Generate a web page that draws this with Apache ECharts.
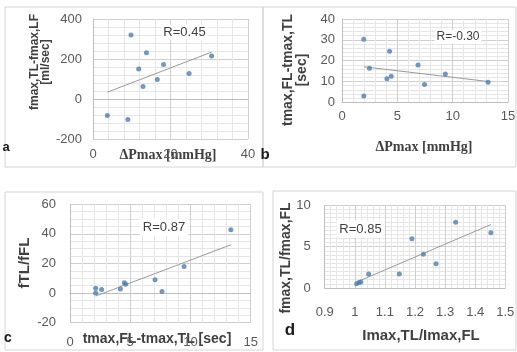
<!DOCTYPE html>
<html><head><meta charset="utf-8">
<script src="https://cdn.jsdelivr.net/npm/echarts@6/dist/echarts.min.js"></script>
<style>html,body{margin:0;padding:0;background:#fff}#c{width:517px;height:352px}</style>
</head><body><div id="c"></div>
<script>
// Panel a
const aX = [3.7, 9.0, 9.8, 11.8, 12.9, 13.8, 16.6, 18.2, 24.8, 30.6];
const aY = [-83, -102, 320, 150, 62, 231, 98, 173, 127, 215];
// Panel b
const bX = [1.97, 1.97, 2.48, 4.06, 4.3, 4.45, 6.87, 7.46, 9.34, 13.2];
const bY = [30.3, 3.0, 16.3, 11.3, 24.5, 12.5, 17.9, 8.6, 13.6, 9.6];
// Panel c
const cX = [2.13, 2.13, 2.63, 4.18, 4.51, 4.62, 7.06, 7.64, 9.47, 13.35];
const cY = [3.2, 0, 2.5, 2.7, 7.0, 5.9, 9.0, 1.1, 18.0, 42.8];
// Panel d
const dX = [1.006, 1.014, 1.02, 1.046, 1.148, 1.19, 1.228, 1.27, 1.335, 1.452];
const dY = [0.52, 0.65, 0.73, 1.69, 1.69, 5.96, 4.07, 2.94, 7.94, 6.69];

const rLabels = ['R=0.45', 'R=-0.30', 'R=0.87', 'R=0.85'];
const yTitles = ['fmax,TL-fmax,LF\n[ml/sec]', 'tmax,FL-tmax,TL\n[sec]', 'fTL/fFL', 'fmax,TL/fmax,FL'];
const xTitles = ['ΔPmax [mmHg]', 'ΔPmax [mmHg]', 'tmax,FL-tmax,TL [sec]', 'Imax,TL/Imax,FL'];
const panelLetters = ['a', 'b', 'c', 'd'];

const panels = [
  {x: aX, y: aY, grid: {left: 93, top: 19, width: 155, height: 120},
   xr: [0, 40, 20], yr: [-200, 400, 200], xMinor: 5, yMinor: 5, onZero: true, xMargin: 9, yMargin: 11},
  {x: bX, y: bY, grid: {left: 342, top: 19, width: 166, height: 83.3},
   xr: [0, 15, 5], yr: [0, 40, 10], xMinor: 5, yMinor: 5, onZero: false, xMargin: 8, yMargin: 7},
  {x: cX, y: cY, grid: {left: 70, top: 204.3, width: 180.7, height: 118.4},
   xr: [0, 15, 5], yr: [-20, 60, 20], xMinor: 5, yMinor: 4, onZero: true, xMargin: 13, yMargin: 14},
  {x: dX, y: dY, grid: {left: 324.7, top: 205.3, width: 180.6, height: 82.7},
   xr: [0.9, 1.5, 0.1], yr: [0, 10, 5], xMinor: 5, yMinor: 10, onZero: false, xMargin: 18, yMargin: 14}
];

function regression(xs, ys) {
  const n = xs.length;
  const mx = xs.reduce((s, v) => s + v, 0) / n;
  const my = ys.reduce((s, v) => s + v, 0) / n;
  let sxy = 0, sxx = 0;
  for (let i = 0; i < n; i++) { sxy += (xs[i] - mx) * (ys[i] - my); sxx += (xs[i] - mx) ** 2; }
  const k = sxy / sxx;
  const lo = Math.min(...xs), hi = Math.max(...xs);
  return [[lo, my + k * (lo - mx)], [hi, my + k * (hi - mx)]];
}

const tickFont = {color: '#595959', fontSize: 13, fontFamily: 'Liberation Sans, Arial, sans-serif'};
const grids = [], xAxes = [], yAxes = [], series = [];
panels.forEach((p, i) => {
  grids.push(Object.assign({outerBoundsMode: 'none', containLabel: false}, p.grid));
  xAxes.push({type: 'value', gridIndex: i, min: p.xr[0], max: p.xr[1], interval: p.xr[2],
    axisLine: {show: true, onZero: p.onZero, lineStyle: {color: '#bfbfbf'}},
    axisTick: {show: false},
    axisLabel: Object.assign({margin: p.xMargin, formatter: v => String(+v.toFixed(2))}, tickFont),
    splitLine: {show: true, lineStyle: {color: '#cfcfcf', width: 1}},
    minorTick: {show: false, splitNumber: p.xMinor},
    minorSplitLine: {show: true, lineStyle: {color: '#e6e6e6', width: 1}}});
  yAxes.push({type: 'value', gridIndex: i, min: p.yr[0], max: p.yr[1], interval: p.yr[2],
    axisLine: {show: true, onZero: false, lineStyle: {color: '#bfbfbf'}},
    axisTick: {show: false},
    axisLabel: Object.assign({margin: p.yMargin}, tickFont),
    splitLine: {show: true, lineStyle: {color: '#cfcfcf', width: 1}},
    minorTick: {show: false, splitNumber: p.yMinor},
    minorSplitLine: {show: true, lineStyle: {color: '#e6e6e6', width: 1}}});
  series.push({type: 'line', xAxisIndex: i, yAxisIndex: i, data: regression(p.x, p.y),
    showSymbol: false, silent: true, lineStyle: {color: '#9a9a9a', width: 1}, z: 2, animation: false});
  series.push({type: 'scatter', xAxisIndex: i, yAxisIndex: i,
    data: p.x.map((v, j) => [v, p.y[j]]), symbol: 'circle', symbolSize: 5,
    itemStyle: {color: '#4a7ebb'}, z: 3, animation: false});
});

const titleFont = 'Liberation Sans Narrow, Liberation Sans, Arial, sans-serif';
const graphic = [
  // panel frames
  {type: 'rect', shape: {x: 5, y: 7, width: 258, height: 160}, style: {fill: 'none', stroke: '#d4d4d4', lineWidth: 1}, z: -10},
  {type: 'rect', shape: {x: 263, y: 7, width: 253, height: 160}, style: {fill: 'none', stroke: '#d4d4d4', lineWidth: 1}, z: -10},
  {type: 'rect', shape: {x: 5, y: 192, width: 258, height: 158}, style: {fill: 'none', stroke: '#d4d4d4', lineWidth: 1}, z: -10},
  {type: 'rect', shape: {x: 273, y: 191, width: 243, height: 159}, style: {fill: 'none', stroke: '#d4d4d4', lineWidth: 1}, z: -10},
  // y titles
  {type: 'text', x: 40, y: 62, rotation: Math.PI / 2, style: {text: yTitles[0], font: 'bold 12px ' + titleFont, fill: '#404040', align: 'center', verticalAlign: 'middle', lineHeight: 11}},
  {type: 'text', x: 295, y: 70, rotation: Math.PI / 2, style: {text: yTitles[1], font: 'bold 14px ' + titleFont, fill: '#404040', align: 'center', verticalAlign: 'middle', lineHeight: 14}},
  {type: 'text', x: 25, y: 263, rotation: Math.PI / 2, style: {text: yTitles[2], font: 'bold 15px ' + titleFont, fill: '#404040', align: 'center', verticalAlign: 'middle'}},
  {type: 'text', x: 286, y: 258, rotation: Math.PI / 2, style: {text: yTitles[3], font: 'bold 14px ' + titleFont, fill: '#404040', align: 'center', verticalAlign: 'middle'}},
  // x titles
  {type: 'text', x: 168, y: 155, style: {text: xTitles[0], font: 'bold 14px Liberation Serif, Times New Roman, serif', fill: '#404040', align: 'center', verticalAlign: 'middle'}},
  {type: 'text', x: 424, y: 147, style: {text: xTitles[1], font: 'bold 14px Liberation Serif, Times New Roman, serif', fill: '#404040', align: 'center', verticalAlign: 'middle'}},
  {type: 'text', x: 157, y: 339, style: {text: xTitles[2], font: 'bold 14px ' + titleFont, fill: '#404040', align: 'center', verticalAlign: 'middle'}},
  {type: 'text', x: 421, y: 336, style: {text: xTitles[3], font: 'bold 15px ' + titleFont, fill: '#404040', align: 'center', verticalAlign: 'middle'}},
  // R labels
  {type: 'text', x: 184.5, y: 32, z: 10, style: {text: rLabels[0], font: '13px Liberation Sans, Arial, sans-serif', fill: '#404040', align: 'center', verticalAlign: 'middle', backgroundColor: '#fff', padding: [1, 2]}},
  {type: 'text', x: 458, y: 37, z: 10, style: {text: rLabels[1], font: '12px Liberation Sans, Arial, sans-serif', fill: '#404040', align: 'center', verticalAlign: 'middle', backgroundColor: '#fff', padding: [1, 2]}},
  {type: 'text', x: 164, y: 227, z: 10, style: {text: rLabels[2], font: '13px Liberation Sans, Arial, sans-serif', fill: '#404040', align: 'center', verticalAlign: 'middle', backgroundColor: '#fff', padding: [2, 3]}},
  {type: 'text', x: 360.5, y: 229, z: 10, style: {text: rLabels[3], font: '13px Liberation Sans, Arial, sans-serif', fill: '#404040', align: 'center', verticalAlign: 'middle', backgroundColor: '#fff', padding: [2, 3]}},
  // panel letters
  {type: 'text', x: 6, y: 147, style: {text: panelLetters[0], font: 'bold 13px Liberation Sans, Arial, sans-serif', fill: '#1a1a1a', align: 'center', verticalAlign: 'middle'}},
  {type: 'text', x: 265, y: 155, style: {text: panelLetters[1], font: 'bold 15px Liberation Sans, Arial, sans-serif', fill: '#1a1a1a', align: 'center', verticalAlign: 'middle'}},
  {type: 'text', x: 8, y: 338, style: {text: panelLetters[2], font: 'bold 14px Liberation Sans, Arial, sans-serif', fill: '#1a1a1a', align: 'center', verticalAlign: 'middle'}},
  {type: 'text', x: 290, y: 330, style: {text: panelLetters[3], font: 'bold 17px Liberation Sans, Arial, sans-serif', fill: '#1a1a1a', align: 'center', verticalAlign: 'middle'}}
];

const chart = echarts.init(document.getElementById('c'), null, {renderer: 'canvas'});
chart.setOption({animation: false, grid: grids, xAxis: xAxes, yAxis: yAxes, series: series, graphic: graphic});
</script>
</body></html>
